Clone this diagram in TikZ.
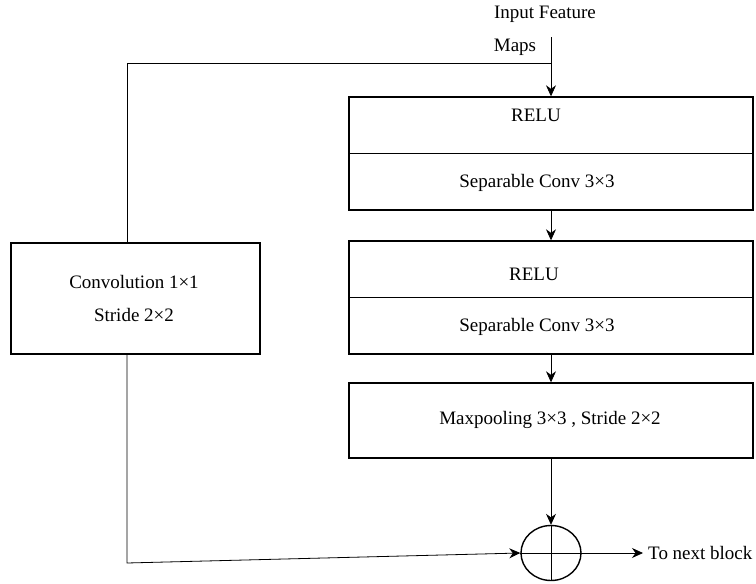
\documentclass[tikz,border=0pt]{standalone}
\usepackage{fontspec}
\setmainfont{Liberation Serif}
\usetikzlibrary{positioning,shapes.geometric,arrows.meta}

\begin{document}
\begin{tikzpicture}
[x=1pt, y=-1pt,
 block/.style={draw, line width=1.4pt, minimum width=404pt, inner sep=0pt},
 lbl/.style={font=\fontsize{19}{22}\selectfont, inner sep=0pt},
 flow/.style={line width=0.8pt, -{Stealth[length=11pt,width=10pt]}},
 link/.style={line width=0.8pt}]
\useasboundingbox (0,0) rectangle (756,584);
% main branch
\node[lbl] (title) at (545,14) {Input Feature};
\node[lbl] (maps) at (515,47) {Maps};
\coordinate (src) at (551,37);
\coordinate (tap) at (551,63);
\node[block, minimum height=113pt] (blockA) at (551,153.5) {};
\draw[line width=0.6pt] (blockA.west) -- (blockA.east);
\node[lbl] (reluA) at (536,115) {RELU};
\node[lbl] (sepA) at (537,183) {Separable Conv 3×3};
\node[block, minimum height=113pt] (blockB) at (551,297.5) {};
\draw[line width=0.6pt] (blockB.west) -- (blockB.east);
\node[lbl] (reluB) at (534,274) {RELU};
\node[lbl] (sepB) at (537,327) {Separable Conv 3×3};
\node[block, minimum height=75pt] (pool) at (551,420.5) {};
\node[lbl] (poolt) at (550,420) {Maxpooling 3×3 , Stride 2×2};
\node[draw, ellipse, line width=1.4pt, minimum width=60pt, minimum height=55pt, inner sep=0pt] (sum) at (551,553) {};
\draw[line width=0.8pt] (sum.north) -- (sum.south) (sum.west) -- (sum.east);
\node[lbl, anchor=west] (next) at (648,553) {To next block};
% shortcut branch
\node[draw, line width=1.4pt, minimum width=249pt, minimum height=111pt] (conv) at (135.5,298.5) {};
\node[lbl] (convt) at (134,282) {Convolution 1×1};
\node[lbl] (stridet) at (134,315) {Stride 2×2};
\coordinate (turn) at (127,63);
\coordinate (low) at (127,563);
% connectors
\draw[flow] (src) -- (blockA.north);
\draw[flow] (blockA.south) -- (blockB.north);
\draw[flow] (blockB.south) -- (pool.north);
\draw[flow] (pool.south) -- (sum.north);
\draw[flow, shorten >=5pt] (sum.east) -- (next.west);
\draw[link] (tap) -- (turn) -- (turn |- conv.north);
\draw[flow] (turn |- conv.south) -- (low) -- (sum.west);
\end{tikzpicture}
\end{document}
